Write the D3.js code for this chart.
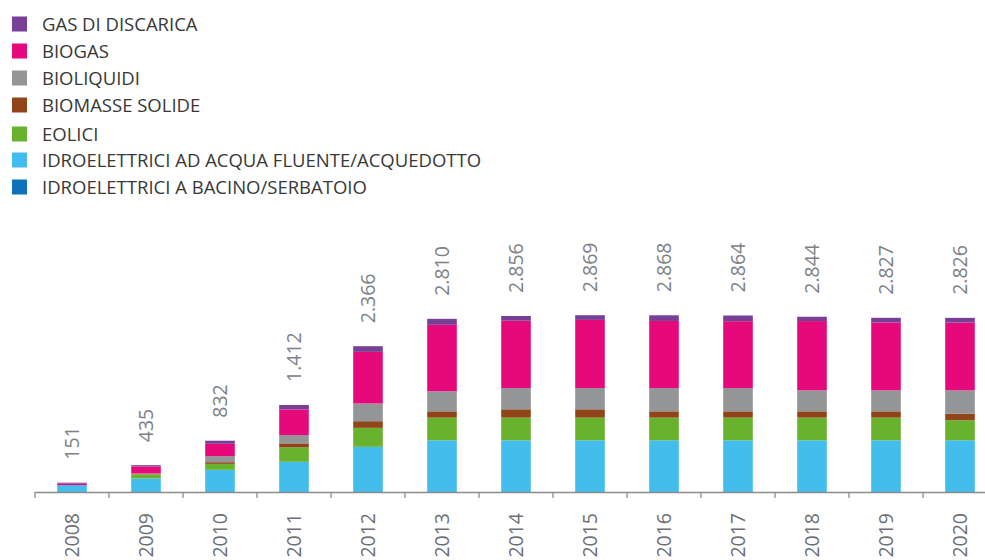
<!DOCTYPE html>
<html>
<head>
<meta charset="utf-8">
<script src="https://cdn.jsdelivr.net/npm/d3@7"></script>
<style>
  body { margin: 0; background: #fff; }
  svg { display: block; font-family: "Open Sans", "Noto Sans", sans-serif; }
</style>
</head>
<body>
<div id="chart"></div>
<script>
// values
const years = [2008, 2009, 2010, 2011, 2012, 2013, 2014, 2015, 2016, 2017, 2018, 2019, 2020]
const idroBacino = [0, 0, 0, 0, 0, 0, 0, 0, 0, 0, 0, 0, 0]
const idroFluente = [112, 220, 360, 490, 733, 839, 839, 839, 839, 839, 839, 839, 839]
const eolici = [0, 65, 97, 234, 308, 368, 368, 368, 368, 368, 368, 368, 325]
const biomasseSolide = [0, 5, 27, 65, 108, 102, 135, 135, 102, 102, 102, 102, 108]
const bioliquidi = [0, 10, 97, 135, 287, 325, 346, 346, 378, 378, 341, 341, 378]
const biogas = [27, 115, 201, 417, 838, 1079, 1092, 1105, 1089, 1085, 1124, 1101, 1100]
const gasDiscarica = [12, 20, 50, 71, 92, 97, 76, 76, 92, 92, 70, 76, 76]
const totals = [151, 435, 832, 1412, 2366, 2810, 2856, 2869, 2868, 2864, 2844, 2827, 2826]

// stack order, bottom to top
const seriesKeys = ["bacino", "fluente", "eolici", "biomasse", "bioliquidi", "biogas", "discarica"]
const seriesValues = {
    bacino: idroBacino, fluente: idroFluente, eolici: eolici, biomasse: biomasseSolide,
    bioliquidi: bioliquidi, biogas: biogas, discarica: gasDiscarica
}
const seriesLabels = {
    discarica: "GAS DI DISCARICA",
    biogas: "BIOGAS",
    bioliquidi: "BIOLIQUIDI",
    biomasse: "BIOMASSE SOLIDE",
    eolici: "EOLICI",
    fluente: "IDROELETTRICI AD ACQUA FLUENTE/ACQUEDOTTO",
    bacino: "IDROELETTRICI A BACINO/SERBATOIO"
}
const seriesColors = {
    discarica: "#773f96",
    biogas: "#e6097c",
    bioliquidi: "#939597",
    biomasse: "#8f4519",
    eolici: "#68b22e",
    fluente: "#42bdec",
    bacino: "#0d72b9"
}

const width = 985
const height = 560
const baseline = 492
const marginLeft = 35

const table = years.map((y, i) => {
    const row = {year: y}
    seriesKeys.forEach(k => row[k] = seriesValues[k][i])
    return row
})

const stacked = d3.stack().keys(seriesKeys)(table)

const x = d3.scaleBand(years, [marginLeft, 997]).paddingInner(0.6).paddingOuter(0.3)
const y = d3.scaleLinear([0, 3000], [baseline, baseline - 3000 * 0.06162])

const fmt = d3.formatLocale({decimal: ",", thousands: ".", grouping: [3], currency: ["€", ""]}).format(",")

const svg = d3.select("#chart").append("svg")
    .attr("width", width)
    .attr("height", height)
    .attr("viewBox", [0, 0, width, height])

// legend
const legendOrder = ["discarica", "biogas", "bioliquidi", "biomasse", "eolici", "fluente", "bacino"]
const legendY = [24, 51, 78, 105, 134, 160, 187]
const legend = svg.append("g")
    .selectAll("g")
    .data(legendOrder)
    .join("g")
    .attr("transform", (d, i) => `translate(12,${legendY[i]})`)
legend.append("rect")
    .attr("x", 0)
    .attr("y", -7.5)
    .attr("width", 15)
    .attr("height", 15)
    .attr("fill", d => seriesColors[d])
legend.append("text")
    .attr("x", 30)
    .attr("dy", "0.36em")
    .attr("font-size", 18.5)
    .attr("font-weight", 500)
    .attr("fill", "#383838")
    .text(d => seriesLabels[d])

// bars
svg.append("g")
    .selectAll("g")
    .data(stacked)
    .join("g")
    .attr("fill", s => seriesColors[s.key])
    .selectAll("rect")
    .data(s => s)
    .join("rect")
    .attr("x", d => x(d.data.year))
    .attr("y", d => y(d[1]))
    .attr("height", d => y(d[0]) - y(d[1]))
    .attr("width", x.bandwidth())

// axis line with ticks between the bars
const step = x.step()
const tickXs = years.map(yr => x(yr) - step * x.paddingInner() / 2)
svg.append("line")
    .attr("x1", marginLeft)
    .attr("x2", width)
    .attr("y1", baseline + 0.5)
    .attr("y2", baseline + 0.5)
    .attr("stroke", "#8c8c8c")
    .attr("stroke-width", 1.3)
svg.append("g")
    .selectAll("line")
    .data(tickXs)
    .join("line")
    .attr("x1", d => d)
    .attr("x2", d => d)
    .attr("y1", baseline)
    .attr("y2", baseline + 6)
    .attr("stroke", "#8c8c8c")
    .attr("stroke-width", 1.3)

// year labels
svg.append("g")
    .selectAll("text")
    .data(years)
    .join("text")
    .attr("transform", d => `translate(${x(d) + x.bandwidth() / 2},513) rotate(-90)`)
    .attr("text-anchor", "end")
    .attr("dy", "0.36em")
    .attr("font-size", 19.5)
    .attr("font-weight", 500)
    .attr("fill", "#6c7075")
    .text(d => d)

// totals above the bars
svg.append("g")
    .selectAll("text")
    .data(years)
    .join("text")
    .attr("transform", (d, i) => `translate(${x(d) + x.bandwidth() / 2},${y(totals[i]) - 23}) rotate(-90)`)
    .attr("text-anchor", "start")
    .attr("dy", "0.36em")
    .attr("font-size", 19.5)
    .attr("font-weight", 500)
    .attr("fill", "#7d8287")
    .text((d, i) => fmt(totals[i]))
</script>
</body>
</html>
